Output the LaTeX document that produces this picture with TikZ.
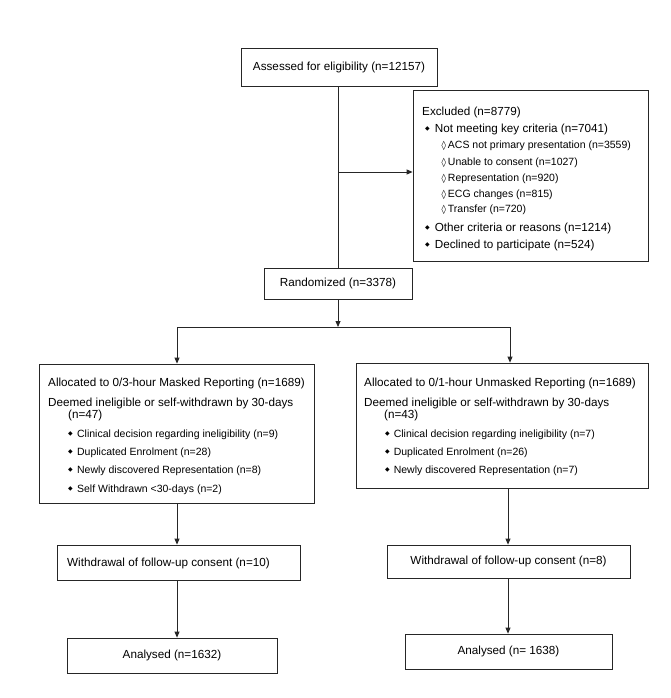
\documentclass[tikz,border=0pt]{standalone}
\usepackage{fontspec}
\setmainfont{Liberation Sans}
\newfontfamily\djv{DejaVu Sans}
\usetikzlibrary{arrows.meta}
\newcommand{\mainsz}{\fontsize{11.7}{14}\selectfont}
\newcommand{\subsz}{\fontsize{10.5}{12.6}\selectfont}
\newcommand{\bdot}{\raisebox{1.6pt}{\djv\fontsize{6}{6}\selectfont ◆}}
\newcommand{\lzg}{{\djv\fontsize{9}{9}\selectfont ◊}}
\begin{document}
\begin{tikzpicture}[x=1pt,y=-1pt,
  boxst/.style={draw=black!85, line width=0.8pt, rectangle, inner sep=0pt},
  lbl/.style={anchor=base west, inner sep=0pt, font=\mainsz},
  sublbl/.style={anchor=base west, inner sep=0pt, font=\subsz},
  arr/.style={draw=black!85, line width=0.8pt, -{Triangle[length=6pt,width=5pt]}},
  ln/.style={draw=black!85, line width=0.8pt}]
\fill[white] (0,0) rectangle (671,698);
\useasboundingbox (0,0) rectangle (671,698);

% top
\node[boxst, minimum width=196pt, minimum height=38pt, font=\mainsz] (assess) at (339,67) {Assessed for eligibility (n=12157)};

% excluded
\node[boxst, minimum width=235pt, minimum height=171pt] (excl) at (530.5,175.5) {};
\node[lbl] (ex0) at (422,116) {Excluded (n=8779)};
\node[lbl] (ex1) at (425,132) {\bdot\hspace{5pt}Not meeting key criteria (n=7041)};
\node[sublbl] (ex2) at (441.5,148) {\lzg\hspace{1.8pt}ACS not primary presentation (n=3559)};
\node[sublbl] (ex3) at (441.5,165) {\lzg\hspace{1.8pt}Unable to consent (n=1027)};
\node[sublbl] (ex4) at (441.5,181) {\lzg\hspace{1.8pt}Representation (n=920)};
\node[sublbl] (ex5) at (441.5,197) {\lzg\hspace{1.8pt}ECG changes (n=815)};
\node[sublbl] (ex6) at (441.5,212) {\lzg\hspace{1.8pt}Transfer (n=720)};
\node[lbl] (ex7) at (425,231) {\bdot\hspace{5pt}Other criteria or reasons (n=1214)};
\node[lbl] (ex8) at (425,248) {\bdot\hspace{5pt}Declined to participate (n=524)};

% randomized
\node[boxst, minimum width=148pt, minimum height=31pt, font=\mainsz] (rand) at (338,283.5) {Randomized (n=3378)};

% left allocation box
\node[boxst, minimum width=275pt, minimum height=139pt] (lbox) at (176.5,433.5) {};
\node[lbl] (l0) at (48,386) {Allocated to 0/3-hour Masked Reporting (n=1689)};
\node[lbl] (l1) at (48,406) {Deemed ineligible or self-withdrawn by 30-days};
\node[lbl] (l2) at (68,418) {(n=47)};
\node[sublbl] (l3) at (68,437) {\bdot\hspace{4.3pt}Clinical decision regarding ineligibility (n=9)};
\node[sublbl] (l4) at (68,455) {\bdot\hspace{4.3pt}Duplicated Enrolment (n=28)};
\node[sublbl] (l5) at (68,473) {\bdot\hspace{4.3pt}Newly discovered Representation (n=8)};
\node[sublbl] (l6) at (68,492) {\bdot\hspace{4.3pt}Self Withdrawn <30-days (n=2)};

% right allocation box
\node[boxst, minimum width=292pt, minimum height=125pt] (rbox) at (502,425.5) {};
\node[lbl] (r0) at (364,386) {Allocated to 0/1-hour Unmasked Reporting (n=1689)};
\node[lbl] (r1) at (364,406) {Deemed ineligible or self-withdrawn by 30-days};
\node[lbl] (r2) at (384,418) {(n=43)};
\node[sublbl] (r3) at (385,437) {\bdot\hspace{4pt}Clinical decision regarding ineligibility (n=7)};
\node[sublbl] (r4) at (385,455) {\bdot\hspace{4pt}Duplicated Enrolment (n=26)};
\node[sublbl] (r5) at (385,473) {\bdot\hspace{4pt}Newly discovered Representation (n=7)};

% withdrawal
\node[boxst, minimum width=243pt, minimum height=35pt] (lw) at (178.5,562.5) {};
\node[lbl] (lwt) at (67,566.5) {Withdrawal of follow-up consent (n=10)};
\node[boxst, minimum width=243pt, minimum height=33pt, font=\mainsz] (rw) at (508.5,561.5) {Withdrawal of follow-up consent (n=8)};

% analysed
\node[boxst, minimum width=210pt, minimum height=35pt, font=\mainsz] (la) at (172,655.5) {Analysed (n=1632)};
\node[boxst, minimum width=207pt, minimum height=35pt, font=\mainsz] (ra) at (508.5,651.5) {Analysed (n= 1638)};

% connectors
\coordinate (br) at (338,172);
\draw[ln] (assess.south -| rand.north) -- (rand.north);
\draw[arr] (br) -- (br -| excl.west);
\coordinate (split) at (338,327);
\draw[arr] (rand.south) -- (split);
\coordinate (sl) at (177,327);
\coordinate (sr) at (510,327);
\draw[ln] (sl) -- (sr);
\draw[arr] (sl) -- (sl |- lbox.north);
\draw[arr] (sr) -- (sr |- rbox.north);
\coordinate (lc) at (177,0);
\coordinate (rc) at (508,0);
\draw[arr] (lc |- lbox.south) -- (lc |- lw.north);
\draw[arr] (lc |- lw.south) -- (lc |- la.north);
\draw[arr] (rc |- rbox.south) -- (rc |- rw.north);
\draw[arr] (rc |- rw.south) -- (rc |- ra.north);
\end{tikzpicture}
\end{document}
